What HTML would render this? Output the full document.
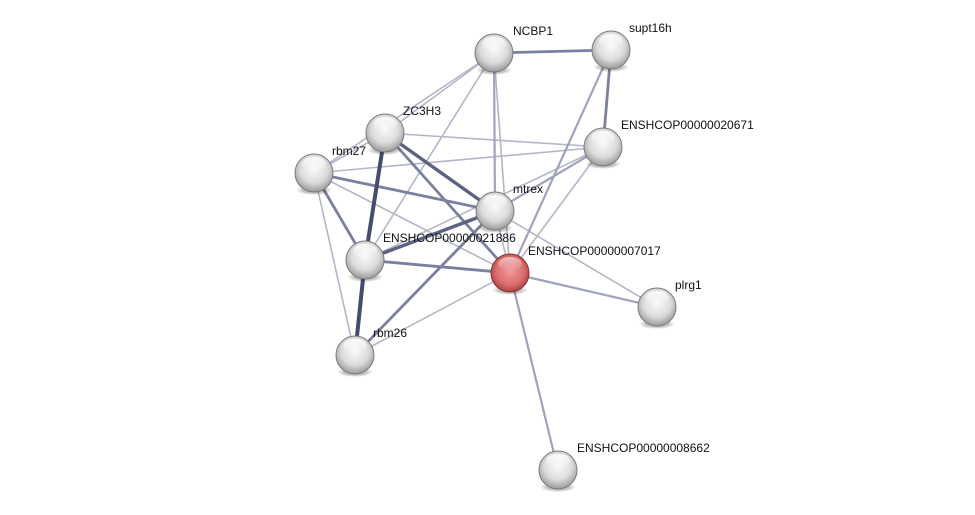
<!DOCTYPE html>
<html><head><meta charset="utf-8"><style>
html,body{margin:0;padding:0;background:#fff;}
svg{display:block;}
text{font-family:"Liberation Sans",sans-serif;font-size:12px;fill:#111;}
</style></head><body>
<svg width="975" height="515" viewBox="0 0 975 515" xmlns="http://www.w3.org/2000/svg">
<defs>
<radialGradient id="g" cx="50%" cy="40%" r="60%">
<stop offset="0" stop-color="#fafafa"/><stop offset="0.6" stop-color="#dcdcdc"/><stop offset="1" stop-color="#9a9a9a"/>
</radialGradient>
<radialGradient id="r" cx="50%" cy="45%" r="60%">
<stop offset="0" stop-color="#f29a9a"/><stop offset="0.6" stop-color="#dc6e6e"/><stop offset="1" stop-color="#9a3a3a"/>
</radialGradient>
<linearGradient id="h" x1="0" y1="0" x2="0" y2="1">
<stop offset="0" stop-color="#fff" stop-opacity="0.9"/><stop offset="1" stop-color="#fff" stop-opacity="0"/>
</linearGradient>
<radialGradient id="s"><stop offset="0.6" stop-color="#000" stop-opacity="0.25"/><stop offset="1" stop-color="#000" stop-opacity="0"/></radialGradient>
</defs>
<g stroke-linecap="round">
<g stroke="#b4b6c8" stroke-width="1.6">
<line x1="494" y1="53" x2="385" y2="133"/>
<line x1="494" y1="53" x2="314" y2="173"/>
<line x1="494" y1="53" x2="365" y2="260"/>
<line x1="494" y1="53" x2="510" y2="273"/>
<line x1="385" y1="133" x2="603" y2="147"/>
<line x1="314" y1="173" x2="603" y2="147"/>
<line x1="365" y1="260" x2="603" y2="147"/>
<line x1="510" y1="273" x2="603" y2="147"/>
<line x1="385" y1="133" x2="314" y2="173"/>
<line x1="314" y1="173" x2="355" y2="355"/>
<line x1="314" y1="173" x2="510" y2="273"/>
<line x1="495" y1="211" x2="510" y2="273"/>
<line x1="495" y1="211" x2="657" y2="307"/>
<line x1="510" y1="273" x2="355" y2="355"/>
</g>
<g stroke="#9fa3bb" stroke-width="2.2">
<line x1="494" y1="53" x2="495" y2="211"/>
<line x1="611" y1="50" x2="510" y2="273"/>
<line x1="510" y1="273" x2="657" y2="307"/>
<line x1="510" y1="273" x2="558" y2="470"/>
<line x1="603" y1="147" x2="495" y2="211"/>
</g>
<g stroke="#7b809e" stroke-width="2.8">
<line x1="494" y1="53" x2="611" y2="50"/>
<line x1="611" y1="50" x2="603" y2="147"/>
<line x1="385" y1="133" x2="510" y2="273"/>
<line x1="314" y1="173" x2="495" y2="211"/>
<line x1="314" y1="173" x2="365" y2="260"/>
<line x1="365" y1="260" x2="510" y2="273"/>
<line x1="495" y1="211" x2="355" y2="355"/>
</g>
<g stroke="#5c6282" stroke-width="3.4">
<line x1="385" y1="133" x2="495" y2="211"/>
<line x1="495" y1="211" x2="365" y2="260"/>
</g>
<g stroke="#454c6e" stroke-width="4">
<line x1="385" y1="133" x2="365" y2="260"/>
<line x1="365" y1="260" x2="355" y2="355"/>
</g>
</g>
<g fill="url(#s)">
<ellipse cx="494" cy="70" rx="18" ry="5"/><ellipse cx="611" cy="67" rx="18" ry="5"/>
<ellipse cx="603" cy="164" rx="18" ry="5"/><ellipse cx="385" cy="150" rx="18" ry="5"/>
<ellipse cx="314" cy="190" rx="18" ry="5"/><ellipse cx="495" cy="228" rx="18" ry="5"/>
<ellipse cx="365" cy="277" rx="18" ry="5"/><ellipse cx="510" cy="290" rx="18" ry="5"/>
<ellipse cx="657" cy="324" rx="18" ry="5"/><ellipse cx="355" cy="372" rx="18" ry="5"/>
<ellipse cx="558" cy="487" rx="18" ry="5"/>
</g>
<g stroke="#7a7a7a" stroke-width="1">
<circle cx="494" cy="53" r="19" fill="url(#g)"/>
<circle cx="611" cy="50" r="19" fill="url(#g)"/>
<circle cx="603" cy="147" r="19" fill="url(#g)"/>
<circle cx="385" cy="133" r="19" fill="url(#g)"/>
<circle cx="314" cy="173" r="19" fill="url(#g)"/>
<circle cx="495" cy="211" r="19" fill="url(#g)"/>
<circle cx="365" cy="260" r="19" fill="url(#g)"/>
<circle cx="510" cy="273" r="19" fill="url(#r)" stroke="#8a3030"/>
<circle cx="657" cy="307" r="19" fill="url(#g)"/>
<circle cx="355" cy="355" r="19" fill="url(#g)"/>
<circle cx="558" cy="470" r="19" fill="url(#g)"/>
</g>
<g fill="url(#h)">
<ellipse cx="494" cy="44" rx="12" ry="7"/><ellipse cx="611" cy="41" rx="12" ry="7"/>
<ellipse cx="603" cy="138" rx="12" ry="7"/><ellipse cx="385" cy="124" rx="12" ry="7"/>
<ellipse cx="314" cy="164" rx="12" ry="7"/><ellipse cx="495" cy="202" rx="12" ry="7"/>
<ellipse cx="365" cy="251" rx="12" ry="7"/><ellipse cx="510" cy="264" rx="12" ry="7" opacity="0.6"/>
<ellipse cx="657" cy="298" rx="12" ry="7"/><ellipse cx="355" cy="346" rx="12" ry="7"/>
<ellipse cx="558" cy="461" rx="12" ry="7"/>
</g>
<text x="513" y="35">NCBP1</text>
<text x="629" y="32">supt16h</text>
<text x="621" y="129">ENSHCOP00000020671</text>
<text x="403" y="115">ZC3H3</text>
<text x="332" y="155">rbm27</text>
<text x="513" y="193">mtrex</text>
<text x="383" y="242">ENSHCOP00000021886</text>
<text x="528" y="255">ENSHCOP00000007017</text>
<text x="675" y="289">plrg1</text>
<text x="373" y="337">rbm26</text>
<text x="577" y="452">ENSHCOP00000008662</text>
</svg>
</body></html>
